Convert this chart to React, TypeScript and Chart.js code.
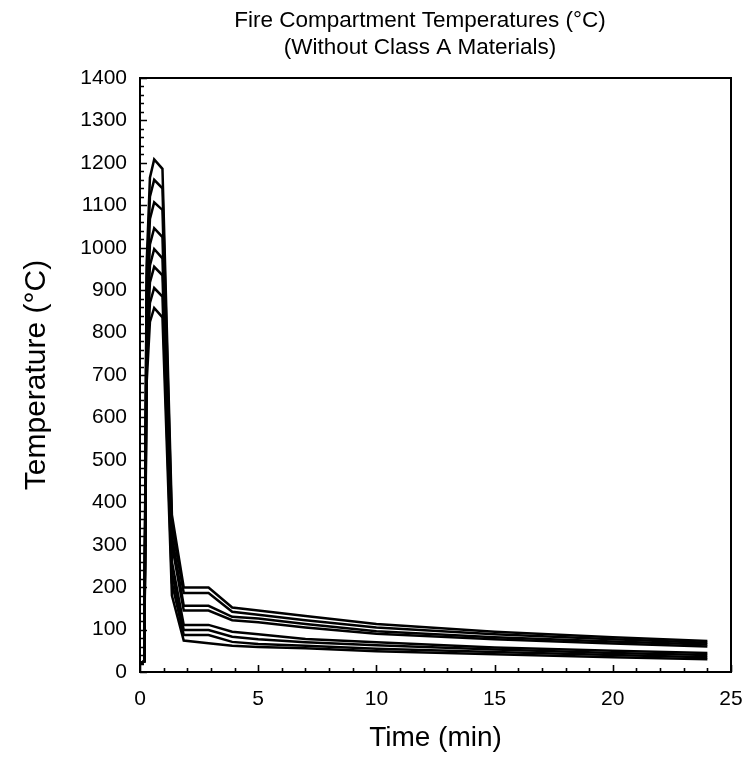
import React, { useEffect, useRef } from "react";
import { Chart, registerables } from "chart.js";
Chart.register(...registerables);

// Time points (min)
const TIMES = [0, 0.18, 0.28, 0.42, 0.6, 0.95, 1.35, 1.85, 2.9, 3.9, 5, 7, 10, 15, 20, 24];

// Temperature series (°C), highest peak first
const SERIES_1 = [20, 25, 960, 1165, 1208, 1186, 370, 199, 199, 152, 145, 132, 113, 95, 82, 73];
const SERIES_2 = [20, 25, 925, 1120, 1160, 1140, 345, 186, 186, 142, 135, 122, 105, 89, 77, 69];
const SERIES_3 = [20, 25, 880, 1068, 1107, 1089, 320, 156, 156, 130, 126, 113, 96, 82, 72, 65];
const SERIES_4 = [20, 25, 830, 1008, 1046, 1025, 300, 145, 145, 122, 117, 105, 90, 77, 67, 60];
const SERIES_5 = [20, 25, 790, 958, 997, 975, 260, 111, 111, 95, 89, 78, 70, 58, 50, 45];
const SERIES_6 = [20, 25, 755, 918, 955, 935, 235, 99, 99, 83, 77, 70, 63, 53, 45, 40];
const SERIES_7 = [20, 25, 715, 870, 905, 885, 210, 87, 87, 71, 66, 62, 55, 47, 40, 35];
const SERIES_8 = [20, 25, 680, 825, 858, 836, 180, 74, 68, 62, 59, 56, 49, 42, 35, 30];

const ALL_SERIES = [SERIES_1, SERIES_2, SERIES_3, SERIES_4, SERIES_5, SERIES_6, SERIES_7, SERIES_8];

const X_MIN = 0;
const X_MAX = 25;
const X_MAJOR = 5;
const X_MINOR = 1;
const Y_MIN = 0;
const Y_MAX = 1400;
const Y_MAJOR = 100;
const Y_MINOR = 20;

const TITLE_LINES = ["Fire Compartment Temperatures (°C)", "(Without Class A Materials)"];
const X_LABEL = "Time (min)";
const Y_LABEL = "Temperature (°C)";

const FONT = "'Liberation Sans', Arial, Helvetica, sans-serif";

const decorPlugin = {
  id: "decor",
  afterDraw(chart: any) {
    const { ctx, chartArea: a, scales } = chart;
    const x = scales.x;
    const y = scales.y;
    ctx.save();
    ctx.strokeStyle = "#000";
    ctx.lineWidth = 2;
    ctx.strokeRect(a.left, a.top, a.right - a.left, a.bottom - a.top);
    ctx.lineWidth = 1.6;
    ctx.beginPath();
    for (let v = X_MIN; v <= X_MAX + 1e-9; v += X_MINOR) {
      const px = Math.round(x.getPixelForValue(v)) + 0.5;
      const len = Math.abs(v % X_MAJOR) < 1e-9 ? 7 : 4;
      ctx.moveTo(px, a.bottom);
      ctx.lineTo(px, a.bottom - len);
    }
    for (let v = Y_MIN; v <= Y_MAX + 1e-9; v += Y_MINOR) {
      const py = Math.round(y.getPixelForValue(v)) + 0.5;
      const len = Math.abs(v % Y_MAJOR) < 1e-9 ? 7 : 4;
      ctx.moveTo(a.left, py);
      ctx.lineTo(a.left + len, py);
    }
    ctx.stroke();
    ctx.fillStyle = "#000";
    ctx.font = `22.5px ${FONT}`;
    ctx.textAlign = "center";
    ctx.textBaseline = "middle";
    ctx.fillText(TITLE_LINES[0], 420, 21);
    ctx.fillText(TITLE_LINES[1], 420, 48);
    ctx.restore();
  },
};

export default function App() {
  const ref = useRef<HTMLCanvasElement | null>(null);
  useEffect(() => {
    if (!ref.current) return;
    const chart = new Chart(ref.current, {
      type: "line",
      data: {
        datasets: ALL_SERIES.map((s, i) => ({
          label: `Series ${i + 1}`,
          data: TIMES.map((t, j) => ({ x: t, y: s[j] })),
          borderColor: "#000",
          backgroundColor: "#000",
          borderWidth: 2.5,
          pointRadius: 0,
          tension: 0,
          fill: false,
        })),
      },
      options: {
        animation: false,
        responsive: false,
        devicePixelRatio: 1,
        layout: { padding: { top: 78, right: 19, left: 0, bottom: 0 } },
        plugins: { legend: { display: false }, title: { display: false }, tooltip: { enabled: false } },
        scales: {
          x: {
            type: "linear",
            min: X_MIN,
            max: X_MAX,
            ticks: {
              stepSize: X_MAJOR,
              color: "#000",
              font: { size: 21, family: FONT },
              padding: 15,
              maxRotation: 0,
              callback: (v: any) => String(v),
            },
            grid: { drawOnChartArea: false, drawTicks: false },
            border: { display: false },
            title: { display: true, text: X_LABEL, color: "#000", font: { size: 28, family: FONT }, padding: { top: 0, bottom: 3 } },
            afterFit: (s: any) => {
              s.height = 86;
              s.paddingLeft = 0;
              s.paddingRight = 0;
            },
          },
          y: {
            type: "linear",
            min: Y_MIN,
            max: Y_MAX,
            ticks: {
              stepSize: Y_MAJOR,
              color: "#000",
              font: { size: 21, family: FONT },
              padding: 13,
              callback: (v: any) => String(v),
            },
            grid: { drawOnChartArea: false, drawTicks: false },
            border: { display: false },
            title: { display: true, text: Y_LABEL, color: "#000", font: { size: 30, family: FONT }, padding: { top: 19, bottom: 0 } },
            afterFit: (s: any) => {
              s.width = 140;
              s.paddingTop = 0;
              s.paddingBottom = 0;
            },
          },
        },
      },
      plugins: [decorPlugin],
    });
    return () => chart.destroy();
  }, []);
  return (
    <div style={{ position: "absolute", left: 0, top: 0, width: 750, height: 758, background: "#fff" }}>
      <canvas ref={ref} width={750} height={758} style={{ display: "block" }} />
    </div>
  );
}
